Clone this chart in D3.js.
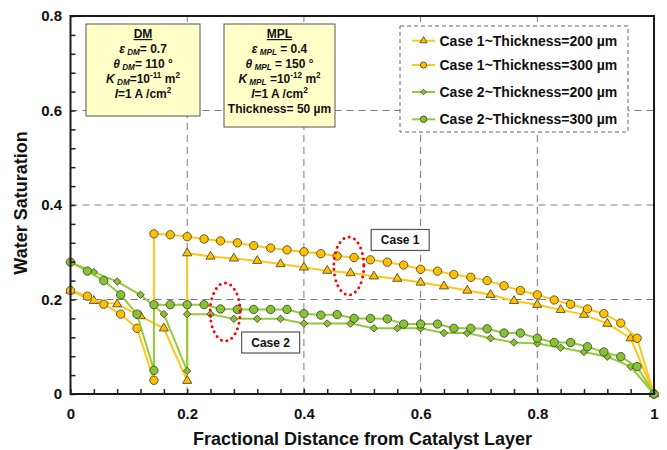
<!DOCTYPE html>
<html>
<head>
<meta charset="utf-8">
<script src="https://cdn.jsdelivr.net/npm/d3@7"></script>
<style>
  body { margin: 0; background: #fff; }
  svg { display: block; font-family: Arial, "Liberation Sans", sans-serif; font-weight: bold; }
</style>
</head>
<body>
<svg id="chart" width="667" height="450"></svg>
<script>
// Node positions (fraction of MPL + DM thickness); the MPL/DM interface node appears twice.
const pos300 = [0, 0.029, 0.057, 0.086, 0.114, 0.143,
  0.143, 0.171, 0.2, 0.229, 0.257, 0.286, 0.314, 0.343, 0.371, 0.4,
  0.429, 0.457, 0.486, 0.514, 0.543, 0.571, 0.6, 0.629, 0.657, 0.686,
  0.714, 0.743, 0.771, 0.8, 0.829, 0.857, 0.886, 0.914, 0.943, 0.971, 1];
const pos200 = [0, 0.04, 0.08, 0.12, 0.16, 0.2,
  0.2, 0.24, 0.28, 0.32, 0.36, 0.4, 0.44, 0.48, 0.52, 0.56, 0.6,
  0.64, 0.68, 0.72, 0.76, 0.8, 0.84, 0.88, 0.92, 0.96, 1];

// Water saturation at each node
const case1_200 = [0.219, 0.197, 0.19, 0.165, 0.139, 0.028,
  0.298, 0.291, 0.287, 0.282, 0.275, 0.268, 0.261, 0.256, 0.249, 0.244, 0.236,
  0.228, 0.219, 0.21, 0.197, 0.189, 0.178, 0.168, 0.149, 0.118, 0];
const case1_300 = [0.219, 0.207, 0.19, 0.169, 0.139, 0.029,
  0.339, 0.337, 0.333, 0.328, 0.324, 0.32, 0.314, 0.309, 0.305, 0.301,
  0.297, 0.292, 0.289, 0.284, 0.279, 0.273, 0.264, 0.26, 0.253, 0.247,
  0.24, 0.229, 0.219, 0.21, 0.199, 0.19, 0.18, 0.17, 0.15, 0.118, 0];
const case2_200 = [0.279, 0.258, 0.238, 0.21, 0.169, 0.049,
  0.169, 0.169, 0.159, 0.159, 0.159, 0.149, 0.149, 0.149, 0.139, 0.139, 0.139,
  0.129, 0.129, 0.118, 0.109, 0.107, 0.098, 0.089, 0.079, 0.058, 0];
const case2_300 = [0.279, 0.26, 0.24, 0.21, 0.169, 0.05,
  0.189, 0.189, 0.189, 0.189, 0.18, 0.179, 0.179, 0.179, 0.179, 0.17,
  0.167, 0.168, 0.16, 0.16, 0.159, 0.148, 0.148, 0.148, 0.139, 0.139,
  0.138, 0.129, 0.129, 0.118, 0.109, 0.109, 0.1, 0.089, 0.079, 0.058, 0];

const seriesNames = ["Case 1~Thickness=200 µm", "Case 1~Thickness=300 µm",
                     "Case 2~Thickness=200 µm", "Case 2~Thickness=300 µm"];
const xMajor = [0, 0.2, 0.4, 0.6, 0.8, 1];
const xTickLabels = ["0", "0.2", "0.4", "0.6", "0.8", "1"];
const yMajor = [0, 0.2, 0.4, 0.6, 0.8];
const yTickLabels = ["0", "0.2", "0.4", "0.6", "0.8"];
const caseLabels = ["Case 1", "Case 2"];
const caseLabelAt = [[0.565, 0.326], [0.343, 0.109]];
const highlightAt = [[0.477, 0.271], [0.265, 0.1735]];

const ORANGE = "#FFC000", ORANGE_LINE = "#FFC61A";
const GREEN = "#86C232", GREEN_LINE = "#94CB3C";
const MARK_STROKE = "#3a3a2a";

const svg = d3.select("#chart");
const x = d3.scaleLinear().domain([0, 1]).range([70.5, 654]);
const y = d3.scaleLinear().domain([0, 0.8]).range([394, 16]);

// dashed grid
const grid = svg.append("g").attr("stroke", "#7a7a7a").attr("stroke-width", 1).attr("stroke-dasharray", "7,5");
[0.2, 0.4, 0.6, 0.8].forEach(v => grid.append("line").attr("x1", x(v)).attr("x2", x(v)).attr("y1", y(0)).attr("y2", y(0.8)));
[0.2, 0.4, 0.6].forEach(v => grid.append("line").attr("x1", x(0)).attr("x2", x(1)).attr("y1", y(v)).attr("y2", y(v)));

// parameter boxes
function richLine(g, cx, yy, parts, size) {
  const t = g.append("text").attr("x", cx).attr("y", yy).attr("text-anchor", "middle")
    .attr("font-size", size).attr("fill", "#111");
  parts.forEach(p => {
    const s = t.append("tspan").text(p.t);
    if (p.it) s.attr("font-style", "italic");
    if (p.sub) s.attr("font-size", size * 0.68).attr("baseline-shift", "-2");
    if (p.sup) s.attr("font-size", size * 0.68).attr("baseline-shift", "5");
    if (p.ul) s.attr("text-decoration", "underline");
  });
}
function paramBox(x0, y0, w, h, lines) {
  const g = svg.append("g");
  g.append("rect").attr("x", x0).attr("y", y0).attr("width", w).attr("height", h)
    .attr("fill", "#FFFFC8").attr("stroke", "#555").attr("stroke-width", 1);
  lines.forEach((ln, i) => richLine(g, x0 + w / 2, y0 + 14 + i * 15, ln, 12));
}
paramBox(86, 24, 114, 92, [
  [{ t: "DM", ul: true }],
  [{ t: "ε", it: true }, { t: " DM", it: true, sub: true }, { t: "= 0.7" }],
  [{ t: "θ", it: true }, { t: " DM", it: true, sub: true }, { t: "= 110 °" }],
  [{ t: "K", it: true }, { t: " DM", it: true, sub: true }, { t: "=10" }, { t: "-11", sup: true }, { t: " m" }, { t: "2", sup: true }],
  [{ t: "I", it: true }, { t: "=1 A /cm" }, { t: "2", sup: true }]
]);
paramBox(224, 24, 111, 103, [
  [{ t: "MPL", ul: true }],
  [{ t: "ε", it: true }, { t: " MPL", it: true, sub: true }, { t: " = 0.4" }],
  [{ t: "θ", it: true }, { t: " MPL", it: true, sub: true }, { t: " = 150 °" }],
  [{ t: "K", it: true }, { t: " MPL", it: true, sub: true }, { t: " =10" }, { t: "-12", sup: true }, { t: " m" }, { t: "2", sup: true }],
  [{ t: "I", it: true }, { t: "=1 A /cm" }, { t: "2", sup: true }],
  [{ t: "Thickness= 50 µm" }]
]);

// marker shapes
const diamond = {
  draw(ctx, size) { const r = Math.sqrt(size / 2); ctx.moveTo(0, -r); ctx.lineTo(r, 0); ctx.lineTo(0, r); ctx.lineTo(-r, 0); ctx.closePath(); }
};
const series = [
  { name: seriesNames[0], pos: pos200, vals: case1_200, fill: ORANGE, line: ORANGE_LINE, sym: d3.symbolTriangle, size: 36, lsize: 22 },
  { name: seriesNames[1], pos: pos300, vals: case1_300, fill: ORANGE, line: ORANGE_LINE, sym: d3.symbolCircle, size: 55, lsize: 30 },
  { name: seriesNames[2], pos: pos200, vals: case2_200, fill: GREEN, line: GREEN_LINE, sym: diamond, size: 28, lsize: 16 },
  { name: seriesNames[3], pos: pos300, vals: case2_300, fill: GREEN, line: GREEN_LINE, sym: d3.symbolCircle, size: 55, lsize: 34 }
];

// legend
const lg = svg.append("g");
lg.append("rect").attr("x", 400).attr("y", 26).attr("width", 228).attr("height", 106)
  .attr("fill", "#fff").attr("stroke", "#666").attr("stroke-width", 1).attr("stroke-dasharray", "4,3");
const legendY = [40.7, 65, 92, 119.3];
series.forEach((s, i) => {
  const ly = legendY[i];
  lg.append("line").attr("x1", 412).attr("x2", 435).attr("y1", ly).attr("y2", ly)
    .attr("stroke", s.line).attr("stroke-width", 2);
  lg.append("path").attr("d", d3.symbol(s.sym, s.lsize)()).attr("transform", `translate(423.5,${ly})`)
    .attr("fill", s.fill).attr("stroke", MARK_STROKE).attr("stroke-width", 0.8);
  lg.append("text").attr("x", 439.5).attr("y", ly + 5).attr("font-size", 14).attr("fill", "#111").text(s.name);
});

// curves
const lineGen = d3.line().x(d => x(d[0])).y(d => y(d[1]));
series.forEach(s => {
  const pts = s.pos.map((p, i) => [p, s.vals[i]]);
  const g = svg.append("g");
  g.append("path").attr("d", lineGen(pts)).attr("fill", "none").attr("stroke", s.line).attr("stroke-width", 2);
  g.selectAll("path.m").data(pts).join("path").attr("class", "m")
    .attr("d", d3.symbol(s.sym, s.size)())
    .attr("transform", d => `translate(${x(d[0])},${y(d[1])})`)
    .attr("fill", s.fill).attr("stroke", MARK_STROKE).attr("stroke-width", 0.8);
});

// highlight ellipses
highlightAt.forEach(([hx, hy]) => {
  svg.append("ellipse").attr("cx", x(hx)).attr("cy", y(hy)).attr("rx", 15).attr("ry", 29)
    .attr("fill", "none").attr("stroke", "#f00").attr("stroke-width", 3)
    .attr("stroke-linecap", "round").attr("stroke-dasharray", "0,5.6");
});

// case labels
caseLabels.forEach((t, i) => {
  const cx = x(caseLabelAt[i][0]), cy = y(caseLabelAt[i][1]);
  svg.append("rect").attr("x", cx - 29).attr("y", cy - 10.5).attr("width", 58).attr("height", 21)
    .attr("fill", "#fff").attr("stroke", "#555").attr("stroke-width", 1.2);
  svg.append("text").attr("x", cx).attr("y", cy + 4.3).attr("text-anchor", "middle")
    .attr("font-size", 12).attr("fill", "#111").text(t);
});

// axes: inward minor ticks every 0.04
const minorX = d3.range(0, 1.0001, 0.04);
const minorY = d3.range(0, 0.8001, 0.04);
svg.append("g").attr("transform", `translate(0,${y(0)})`)
  .call(d3.axisBottom(x).tickValues(minorX).tickSizeInner(-5).tickSizeOuter(0).tickFormat(""))
  .call(g => g.select(".domain").remove())
  .call(g => g.selectAll("line").attr("stroke", "#222").attr("stroke-width", 1.5));
svg.append("g").attr("transform", `translate(${x(0)},0)`)
  .call(d3.axisLeft(y).tickValues(minorY).tickSizeInner(-5).tickSizeOuter(0).tickFormat(""))
  .call(g => g.select(".domain").remove())
  .call(g => g.selectAll("line").attr("stroke", "#222").attr("stroke-width", 1.5));

svg.append("g").attr("transform", `translate(0,${y(0)})`)
  .call(d3.axisBottom(x).tickValues(xMajor).tickSize(0).tickPadding(14.5)
    .tickFormat((d, i) => xTickLabels[i]))
  .call(g => g.select(".domain").remove())
  .call(g => g.selectAll("text").attr("font-size", 15).attr("font-family", null).attr("fill", "#111"));
svg.append("g").attr("transform", `translate(${x(0)},0)`)
  .call(d3.axisLeft(y).tickValues(yMajor).tickSize(0).tickPadding(8.5)
    .tickFormat((d, i) => yTickLabels[i]))
  .call(g => g.select(".domain").remove())
  .call(g => g.selectAll("text").attr("font-size", 15).attr("font-family", null).attr("fill", "#111"));

// frame
svg.append("rect").attr("x", x(0)).attr("y", y(0.8)).attr("width", x(1) - x(0)).attr("height", y(0) - y(0.8))
  .attr("fill", "none").attr("stroke", "#1a1a1a").attr("stroke-width", 2);

// axis titles
svg.append("text").attr("x", 362.5).attr("y", 444.5).attr("text-anchor", "middle")
  .attr("font-size", 18).attr("fill", "#111").text("Fractional Distance from Catalyst Layer");
svg.append("text").attr("transform", "translate(27,203) rotate(-90)").attr("text-anchor", "middle")
  .attr("font-size", 18).attr("fill", "#111").text("Water Saturation");
</script>
</body>
</html>
